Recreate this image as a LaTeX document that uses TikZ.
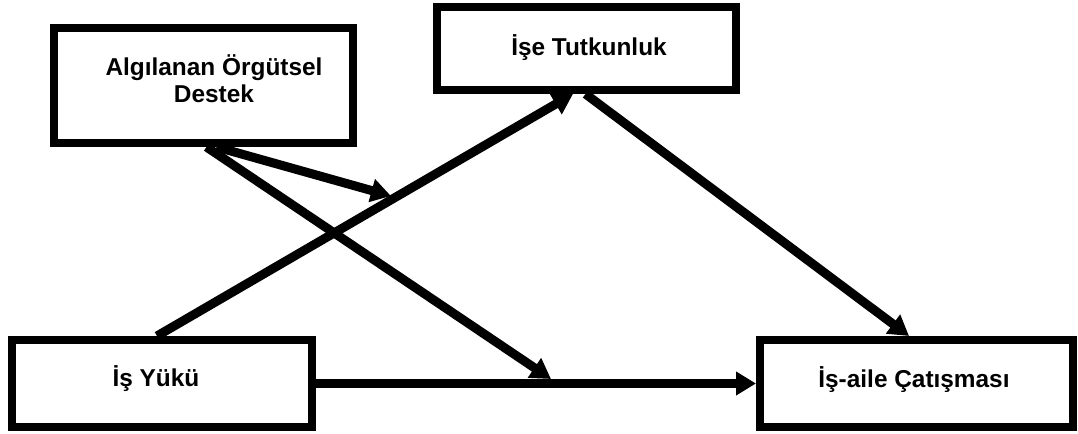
\documentclass[tikz,border=0pt]{standalone}
\usepackage{fontspec}
\setmainfont{Liberation Sans}
\usetikzlibrary{arrows.meta,calc}
\begin{document}
\begin{tikzpicture}[x=0.75pt,y=-0.75pt,
  boxnode/.style={draw,line width=6pt,rectangle,inner sep=0pt},
  lbl/.style={font=\bfseries\fontsize{18.3pt}{20.25pt}\selectfont,align=center,inner sep=0pt},
  conn/.style={line width=6.75pt,-{Triangle[length=15pt,width=17pt]}}]
\useasboundingbox (0,0) rectangle (1078,434);
% boxes
\node[boxnode,minimum width=224.25pt,minimum height=86.25pt] (ao) at (203.5,85.5) {};
\node[boxnode,minimum width=224.25pt,minimum height=62.25pt] (it) at (586.5,48.5) {};
\node[boxnode,minimum width=225pt,minimum height=65.25pt] (yk) at (162,383.5) {};
\node[boxnode,minimum width=234.75pt,minimum height=65.25pt] (ia) at (916.5,383.5) {};
% labels
\node[lbl] (aot) at (214,78.5) {Algılanan Örgütsel\\Destek};
\node[lbl] (itt) at (589,48) {İşe Tutkunluk};
\node[lbl] (ykt) at (156,379) {İş Yükü};
\node[lbl] (iat) at (914,380) {İş-aile Çatışması};
% moderation points
\coordinate (m1) at (391,196);
\coordinate (m2) at (551,379);
% connectors
\draw[conn] ($(yk.north)+(-5,0)$) -- ($(it.south)+(-13.5,0)$);
\draw[conn] ($(it.south)+(-1,0)$) -- ($(ia.north)+(-7.5,0)$);
\draw[conn] (yk.east) -- (ia.west);
\draw[conn] ($(ao.south)+(3,0)$) -- (m2);
\draw[conn] ($(ao.south)+(13,0)$) -- (m1);
\end{tikzpicture}
\end{document}
